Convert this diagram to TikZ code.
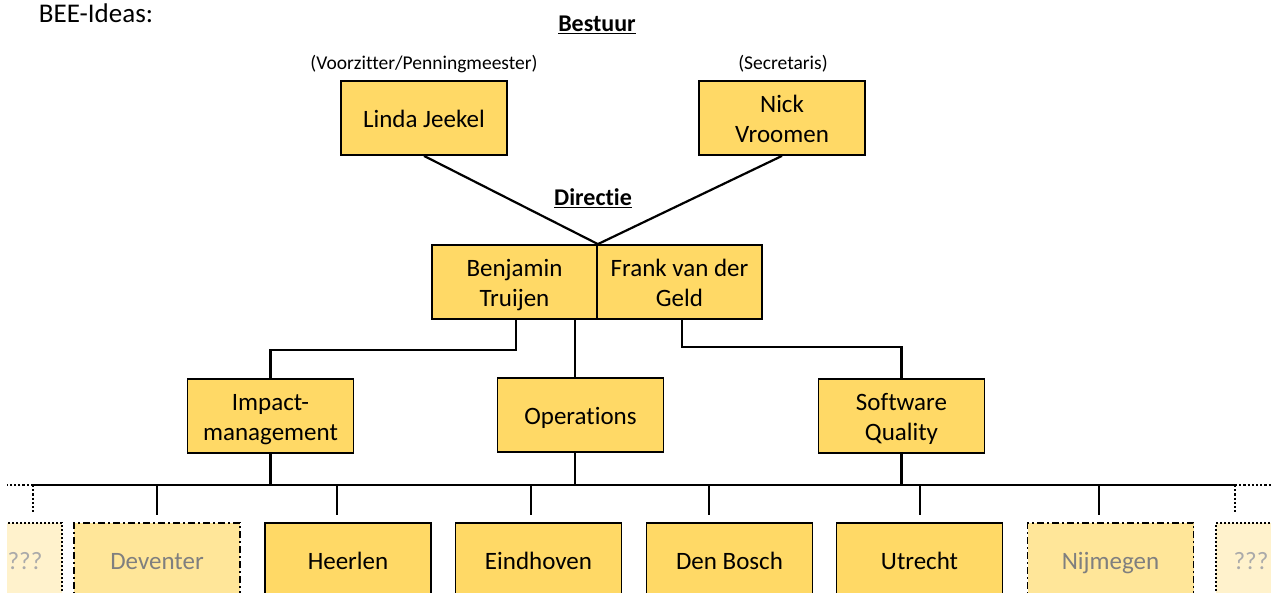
\documentclass[tikz,border=0pt]{standalone}
\usepackage{tikz}
\usetikzlibrary{calc}
\usepackage{xcolor}
\usepackage{fontspec}
\setmainfont{Carlito}[RawFeature={-liga;-clig;-calt}]
\definecolor{gold}{RGB}{255,217,102}
\definecolor{palegold}{RGB}{255,230,153}
\definecolor{ghostgold}{RGB}{255,242,204}
\definecolor{greytext}{RGB}{127,127,127}
\definecolor{ghosttext}{RGB}{170,170,170}
\tikzset{
    %Define standard boxes and lines
    pbox/.style={draw, line width=1.8pt, fill=gold, minimum width=166pt, minimum height=74pt,
        inner sep=0pt, align=center, font=\fontsize{25}{30}\selectfont},
    maybebox/.style={pbox, fill=palegold, text=greytext, dash pattern=on 7pt off 3pt on 2pt off 3pt},
    ghostbox/.style={pbox, fill=ghostgold, text=ghosttext, dash pattern=on 2pt off 2pt},
    link/.style={line width=2.2pt},
    ghostlink/.style={line width=2.2pt, dash pattern=on 2.2pt off 2pt},
    head/.style={font=\fontsize{24}{29}\selectfont\bfseries},
    role/.style={font=\fontsize{19.5}{23}\selectfont}
}
% one line of box text
\def\rl{\rule[-6pt]{0pt}{30pt}}

\begin{document}
\begin{tikzpicture}[x=1pt,y=-1pt]
    \useasboundingbox (0,0) rectangle (1271,592);
    \clip (7,0) rectangle (1271,592);
    \node[font=\fontsize{27}{32}\selectfont] (bee) at (96,13) {BEE-Ideas:};
    \node[head] (bestuur) at (597,25) {\underline{Bestuur}};
    \node[role] (vz) at (424,64) {(Voorzitter/Penningmeester)};
    \node[role] (sec) at (783,64) {(Secretaris)};
    \node[head] (directie) at (593,198) {\underline{Directie}};
    % bestuur
    \node[pbox] (linda) at (424,118) {\rl Linda Jeekel};
    \node[pbox] (nick) at (782,118) {\rl Nick\\\rl Vroomen};
    % directie
    \node[pbox, minimum width=165pt] (benjamin) at (514.5,282) {\rl Benjamin\\\rl Truijen};
    \node[pbox, minimum width=165pt] (frank) at (679.5,282) {\rl Frank van der\\\rl Geld};
    % afdelingen
    \node[pbox] (impact) at (270.5,416) {\rl Impact-\\\rl management};
    \node[pbox] (ops) at (580.5,415) {\rl Operations};
    \node[pbox] (sq) at (901.5,416) {\rl Software\\\rl Quality};
    % vestigingen
    \node[ghostbox, minimum width=74pt] (qa) at (25,560) {\rl ???};
    \node[maybebox] (dev) at (157,560) {\rl Deventer};
    \node[pbox] (hee) at (348,560) {\rl Heerlen};
    \node[pbox] (ein) at (538.5,560) {\rl Eindhoven};
    \node[pbox] (bos) at (729.5,560) {\rl Den Bosch};
    \node[pbox] (utr) at (919.5,560) {\rl Utrecht};
    \node[maybebox] (nij) at (1110.5,560) {\rl Nijmegen};
    \node[ghostbox, minimum width=70pt] (qb) at (1251,560) {\rl ???};

    \draw[link] (linda.south) -- (benjamin.north east);
    \draw[link] (nick.south) -- (benjamin.north east);
    \draw[link] ([xshift=1.5pt]benjamin.south) -- ++(0,30) -| (impact.north);
    \coordinate (opsTop) at ($(benjamin.south east)+(-23,0)$);
    \draw[link] (opsTop) -- (opsTop |- ops.north);
    \draw[link] ([xshift=2.5pt]frank.south) -- ++(0,27) -| (sq.north);

    \coordinate (busL) at (33,485);
    \coordinate (busR) at (1235,485);
    \draw[link] (busL) -- (busR);
    \draw[ghostlink] (busL) -- ++(-33,0);
    \draw[ghostlink] (busR) -- ++(40,0);
    \draw[ghostlink, shorten >=10pt] (busL) -- (busL |- qa.north);
    \draw[ghostlink, shorten >=10pt] (busR) -- (busR |- qb.north);
    \draw[link] (impact.south) -- (impact.south |- busL);
    \draw[link] ([xshift=-5.5pt]ops.south) -- ([xshift=-5.5pt]ops.south |- busL);
    \draw[link] (sq.south) -- (sq.south |- busL);
    \foreach \n/\x in {dev/157,hee/337,ein/531,bos/709,utr/920,nij/1099}{
        \coordinate (d) at (\x,485);
        \draw[link, shorten >=7pt] (d) -- (d |- \n.north);
    }
\end{tikzpicture}
\end{document}
